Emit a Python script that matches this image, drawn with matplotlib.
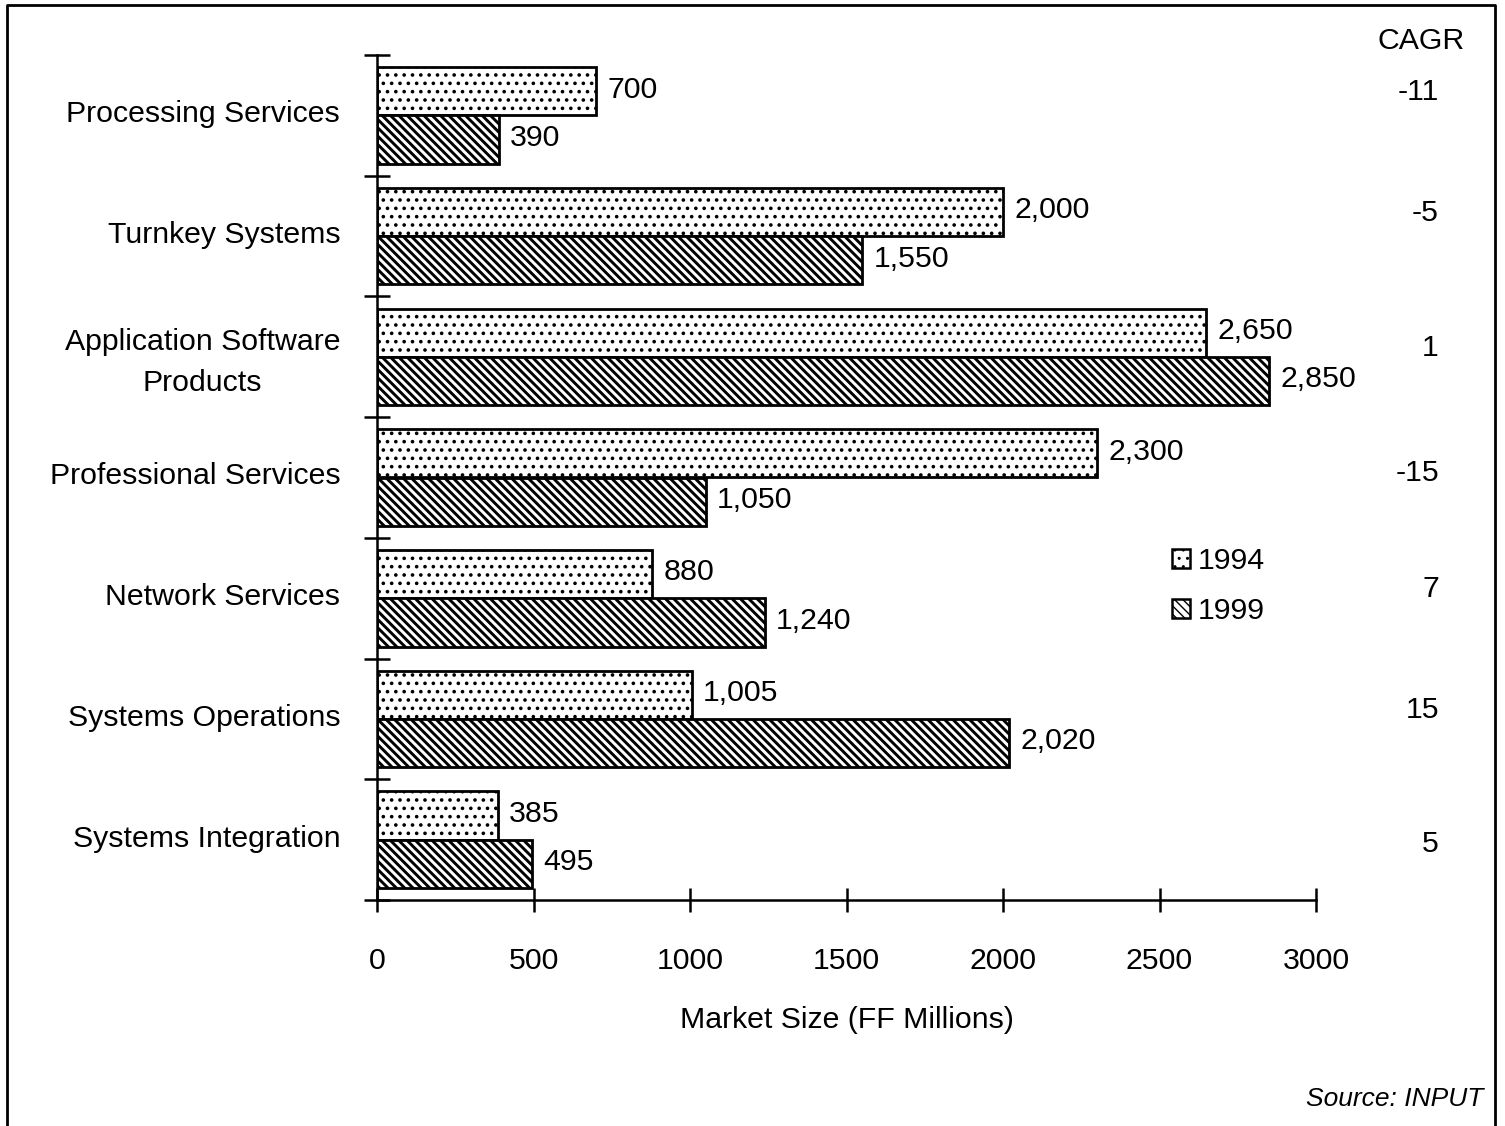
"""
Market size by sector, 1994 vs 1999 (FF millions), with CAGR column
"""

import matplotlib
import matplotlib.pyplot as plt
from matplotlib.lines import Line2D
from matplotlib.patches import Patch
from matplotlib.transforms import ScaledTranslation
import numpy as np

matplotlib.use('Agg')

plt.rcParams['font.family'] = ['Liberation Sans', 'DejaVu Sans']
plt.rcParams['font.size'] = 21.8

# Data (top to bottom)
categories = ['Processing Services', 'Turnkey Systems', 'Application Software\nProducts',
              'Professional Services', 'Network Services', 'Systems Operations',
              'Systems Integration']
values_1994 = [700, 2000, 2650, 2300, 880, 1005, 385]
values_1999 = [390, 1550, 2850, 1050, 1240, 2020, 495]
cagr = [-11, -5, 1, -15, 7, 15, 5]
x_ticks = [0, 500, 1000, 1500, 2000, 2500, 3000]
series_labels = ['1994', '1999']

# small vertical nudges of the CAGR figures (layout only)
CAGR_NUDGE = [-0.19, -0.19, -0.07, -0.04, -0.08, -0.07, 0.04]

HATCH_DOTS = '..'
HATCH_DIAG = '\\' * 4

W, H = 1505, 1126
fig = plt.figure(figsize=(W / 100, H / 100), dpi=100, facecolor='white')
ax = fig.add_axes([377 / W, 1 - 900 / H, (1316 - 377) / W, (900 - 55) / H])

n = len(categories)
centers = np.arange(n) + 0.5
bar_h = 0.4

with plt.rc_context({'hatch.linewidth': 1.4}):
    b1 = ax.barh(centers - bar_h / 2, values_1994, height=bar_h, color='white',
                 edgecolor='black', linewidth=2.0, hatch=HATCH_DOTS)
with plt.rc_context({'hatch.linewidth': 2.1}):
    b2 = ax.barh(centers + bar_h / 2, values_1999, height=bar_h, color='white',
                 edgecolor='black', linewidth=2.0, hatch=HATCH_DIAG)
for bars, lw in ((b1, 1.4), (b2, 2.1)):
    for p in bars:
        if hasattr(p, 'set_hatch_linewidth'):
            p.set_hatch_linewidth(lw)

# value labels
for bars, vals in ((b1, values_1994), (b2, values_1999)):
    for p, v in zip(bars, vals):
        ax.annotate(f'{v:,}', xy=(v, p.get_y() + p.get_height() / 2),
                    xytext=(8, 1.2), textcoords='offset points',
                    ha='left', va='center')

ax.set_xlim(0, 3000)
ax.set_ylim(n, 0)

# spines
for s in ('top', 'right'):
    ax.spines[s].set_visible(False)
ax.spines['left'].set_linewidth(1.8)
ax.spines['bottom'].set_linewidth(1.8)

# y: boundary ticks (major), category labels (minor)
ax.set_yticks(np.arange(n + 1))
ax.set_yticklabels([])
ax.tick_params(axis='y', which='major', direction='inout', length=19, width=1.8)
ax.set_yticks(centers, minor=True)
ax.set_yticklabels(categories, minor=True, ha='right', multialignment='center',
                   linespacing=1.62)
ax.tick_params(axis='y', which='minor', length=0, pad=26.5)
shift_up = ScaledTranslation(0, 4 / 100, fig.dpi_scale_trans)
for lbl in ax.get_yticklabels(minor=True):
    lbl.set_transform(lbl.get_transform() + shift_up)

# x ticks
ax.set_xticks(x_ticks)
ax.set_xticklabels([str(t) for t in x_ticks])
ax.tick_params(axis='x', which='major', direction='inout', length=17, width=1.8, pad=25)
ax.set_xlabel('Market Size (FF Millions)', labelpad=23)

# CAGR column
fig.text(1421 / W, 1 - 41 / H, 'CAGR', ha='center', va='center')
for c, v, dy in zip(centers, cagr, CAGR_NUDGE):
    y_disp = ax.transData.transform((0, c + dy))[1]
    y_fig = fig.transFigure.inverted().transform((0, y_disp))[1]
    fig.text(1439 / W, y_fig, str(v), ha='right', va='center')

# legend
handles = [Patch(facecolor='white', edgecolor='black', hatch=HATCH_DOTS, linewidth=1.8),
           Patch(facecolor='white', edgecolor='black', hatch=HATCH_DIAG, linewidth=1.8)]
fig.legend(handles, series_labels, loc='center left',
           bbox_to_anchor=(1151 / W, 1 - 586 / H), frameon=False,
           handlelength=0.6, handleheight=0.6, handletextpad=0.25,
           labelspacing=0.72, borderpad=0.2)

# source note
fig.text(1483 / W, 1 - 1099 / H, 'Source: INPUT', ha='right', va='center',
         style='italic', fontsize=19)

# frame around the figure (open at the bottom)
fx = [7 / W, 7 / W, 1495 / W, 1495 / W]
fy = [0, 1 - 5 / H, 1 - 5 / H, 0]
fig.add_artist(Line2D(fx, fy, transform=fig.transFigure, color='black', linewidth=2))

fig.savefig('out.png', dpi=100, facecolor='white')
plt.close('all')
